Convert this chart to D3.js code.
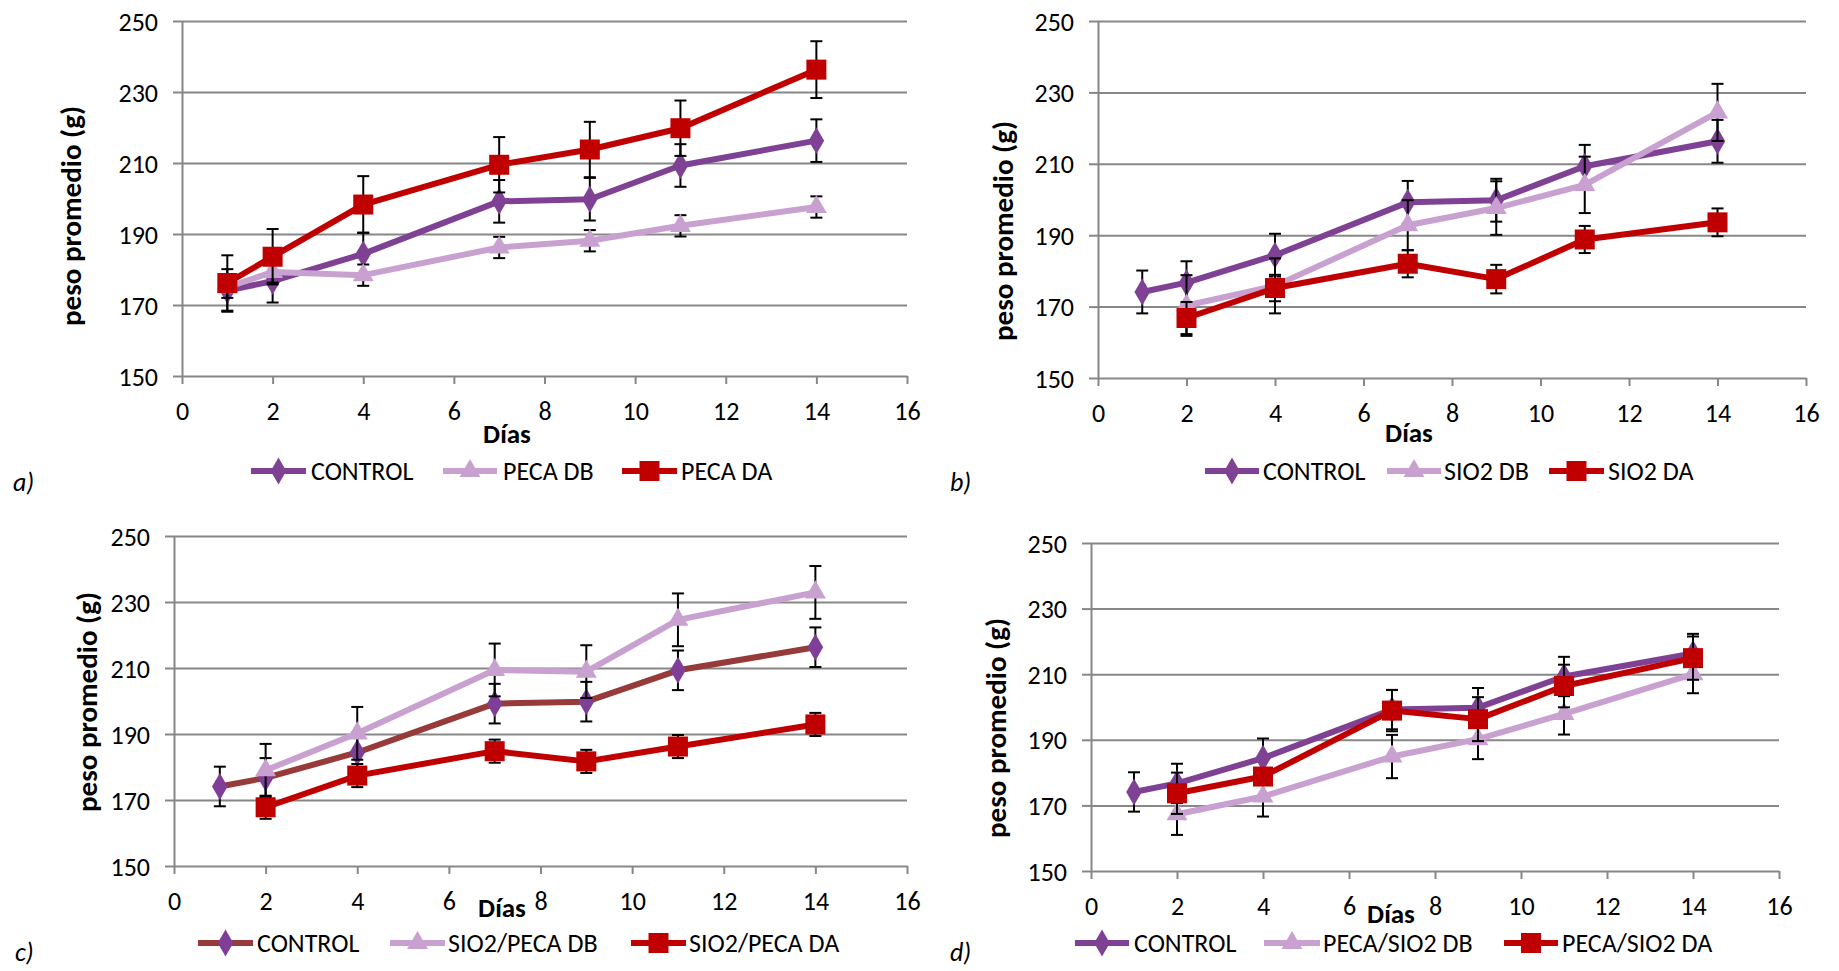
<!DOCTYPE html>
<html>
<head>
<meta charset="utf-8">
<script src="https://cdn.jsdelivr.net/npm/d3@7"></script>
<style>
  body { margin: 0; background: #fff; }
  svg text { font-family: Carlito, Lato, sans-serif; fill: #000; }
</style>
</head>
<body>
<svg id="chart" width="1839" height="971"></svg>
<script>
// days measured
var days = [1, 2, 4, 7, 9, 11, 14];
var treatDays = [2, 4, 7, 9, 11, 14];
var xTicks = [0, 2, 4, 6, 8, 10, 12, 14, 16];
var yTicks = [150, 170, 190, 210, 230, 250];

// control group (same in all four panels)
var controlMean = [174.1, 176.7, 184.4, 199.2, 199.8, 209.3, 216.3];
var controlErr = [6, 6, 6, 6, 6, 6, 6];

// a) PECA
var pecaDbMean = [175, 179.3, 178.4, 186.2, 188.1, 192.3, 197.6];
var pecaDbErr = [3, 3, 3, 3, 3, 3, 3];
var pecaDaMean = [176.2, 183.6, 198.3, 209.5, 213.8, 219.8, 236.3];
var pecaDaErr = [7.8, 7.8, 8, 7.8, 7.8, 7.8, 8];

// b) SIO2
var sio2DbMean = [170.3, 175.8, 192.8, 197.6, 204.1, 224.4];
var sio2DbErr = [8.5, 7.7, 7, 7.5, 7.9, 8];
var sio2DaMean = [166.8, 175.2, 182, 177.7, 188.8, 193.6];
var sio2DaErr = [4.5, 3.7, 3.8, 4, 3.8, 3.9];

// c) SIO2/PECA
var sio2PecaDbMean = [179, 190.2, 209.4, 208.9, 224.6, 232.9];
var sio2PecaDbErr = [8, 8, 8, 8, 8, 8];
var sio2PecaDaMean = [167.8, 177.4, 184.8, 181.7, 186.2, 192.9];
var sio2PecaDaErr = [3.5, 3.5, 3.5, 3.5, 3.5, 3.5];

// d) PECA/SIO2
var pecaSio2DbMean = [167.3, 172.7, 184.9, 190.2, 197.9, 210];
var pecaSio2DbErr = [6.3, 6.1, 6.6, 6.1, 6.3, 5.8];
var pecaSio2DaMean = [173.7, 178.8, 198.9, 196.3, 206.4, 214.9];
var pecaSio2DaErr = [6.3, 2.5, 6.3, 6.7, 6.5, 6.6];

var PURPLE = '#7e4194', LILAC = '#c9a1d1', RED = '#c00000', BROWN = '#963a3a', DIAMOND = '#7f3f98';
var GRID = '#878787';
var FS = '26px';

function ser(name, x, y, e, line, fill, shape) {
  return { name: name, x: x, y: y, e: e, line: line, fill: fill, shape: shape };
}

var panels = [
  { tag: 'a)', box: { l: 182, r: 907, t: 21, b: 376 }, ylab: [71, 216], xlab: [507, 434], tagPos: [13, 482],
    legY: 471, leg: [[251, 306, 311], [443, 497, 503], [622, 677, 681]],
    series: [ser('CONTROL', days, controlMean, controlErr, PURPLE, PURPLE, 'diamond'),
             ser('PECA DB', days, pecaDbMean, pecaDbErr, LILAC, LILAC, 'triangle'),
             ser('PECA DA', days, pecaDaMean, pecaDaErr, RED, RED, 'square')] },
  { tag: 'b)', box: { l: 1098, r: 1806, t: 21, b: 378 }, ylab: [1003, 231], xlab: [1409, 433], tagPos: [950, 482],
    legY: 471, leg: [[1205, 1259, 1263], [1387, 1441, 1444], [1549, 1604, 1608]],
    series: [ser('CONTROL', days, controlMean, controlErr, PURPLE, PURPLE, 'diamond'),
             ser('SIO2 DB', treatDays, sio2DbMean, sio2DbErr, LILAC, LILAC, 'triangle'),
             ser('SIO2 DA', treatDays, sio2DaMean, sio2DaErr, RED, RED, 'square')] },
  { tag: 'c)', box: { l: 174, r: 907, t: 536, b: 866 }, ylab: [87, 702], xlab: [502, 908], tagPos: [15, 952],
    legY: 943, leg: [[198, 253, 257], [390, 445, 448], [631, 686, 689]],
    series: [ser('CONTROL', days, controlMean, controlErr, BROWN, DIAMOND, 'diamond'),
             ser('SIO2/PECA DB', treatDays, sio2PecaDbMean, sio2PecaDbErr, LILAC, LILAC, 'triangle'),
             ser('SIO2/PECA DA', treatDays, sio2PecaDaMean, sio2PecaDaErr, RED, RED, 'square')] },
  { tag: 'd)', box: { l: 1091, r: 1779, t: 543, b: 871 }, ylab: [996, 728], xlab: [1391, 914], tagPos: [950, 952],
    legY: 943, leg: [[1075, 1129, 1134], [1264, 1320, 1323], [1504, 1558, 1562]],
    series: [ser('CONTROL', days, controlMean, controlErr, PURPLE, PURPLE, 'diamond'),
             ser('PECA/SIO2 DB', treatDays, pecaSio2DbMean, pecaSio2DbErr, LILAC, LILAC, 'triangle'),
             ser('PECA/SIO2 DA', treatDays, pecaSio2DaMean, pecaSio2DaErr, RED, RED, 'square')] }
];

var svg = d3.select('#chart');

// marker shapes, centred on 0,0
var shapes = {
  diamond: d3.symbol().type(d3.symbolDiamond).size(210),
  triangle: d3.symbol().type(d3.symbolTriangle).size(190),
  square: d3.symbol().type(d3.symbolSquare).size(400)
};

panels.forEach(function (p) {
  var g = svg.append('g');
  var x = d3.scaleLinear().domain([0, 16]).range([p.box.l, p.box.r]);
  var y = d3.scaleLinear().domain([150, 250]).range([p.box.b, p.box.t]);
  var w = p.box.r - p.box.l;

  // gridlines
  g.append('g')
    .attr('transform', 'translate(' + p.box.l + ',0)')
    .call(d3.axisLeft(y).tickValues(yTicks.slice(1)).tickSize(-w).tickFormat(''))
    .call(function (a) { a.select('.domain').remove(); })
    .selectAll('line').attr('stroke', GRID).attr('stroke-width', 2);

  // y axis
  var ya = g.append('g')
    .attr('transform', 'translate(' + p.box.l + ',0)')
    .call(d3.axisLeft(y).tickValues(yTicks).tickSize(9).tickSizeOuter(0));
  ya.select('.domain').attr('stroke', GRID).attr('stroke-width', 2);
  ya.selectAll('line').attr('stroke', GRID).attr('stroke-width', 2);
  ya.selectAll('text').attr('x', -24).attr('dy', '0.35em')
    .style('font-size', FS).style('font-family', 'Carlito, Lato, sans-serif');

  // x axis
  var xa = g.append('g')
    .attr('transform', 'translate(0,' + p.box.b + ')')
    .call(d3.axisBottom(x).tickValues(xTicks).tickSize(8).tickSizeOuter(0));
  xa.select('.domain').attr('stroke', GRID).attr('stroke-width', 2);
  xa.selectAll('line').attr('stroke', GRID).attr('stroke-width', 2);
  xa.selectAll('text').attr('y', 35).attr('dy', '0.35em')
    .style('font-size', FS).style('font-family', 'Carlito, Lato, sans-serif');

  // axis titles
  g.append('text')
    .attr('transform', 'translate(' + p.ylab[0] + ',' + p.ylab[1] + ') rotate(-90)')
    .attr('text-anchor', 'middle').attr('dy', '0.35em')
    .style('font-size', '28px').style('font-weight', 'bold')
    .attr('textLength', 220).attr('lengthAdjust', 'spacingAndGlyphs')
    .text('peso promedio (g)');
  g.append('text')
    .attr('x', p.xlab[0]).attr('y', p.xlab[1]).attr('dy', '0.35em')
    .attr('text-anchor', 'middle')
    .style('font-size', '27px').style('font-weight', 'bold')
    .text('Días');
  g.append('text')
    .attr('x', p.tagPos[0]).attr('y', p.tagPos[1]).attr('dy', '0.35em')
    .style('font-size', FS).style('font-style', 'italic')
    .text(p.tag);

  // series: error bars, line, markers
  p.series.forEach(function (s) {
    var pts = s.x.map(function (d, i) { return { x: d, y: s.y[i], e: s.e[i] }; });
    var eb = g.append('g').attr('stroke', '#000').attr('stroke-width', 2);
    eb.selectAll('.v').data(pts).enter().append('line')
      .attr('x1', function (d) { return x(d.x); }).attr('x2', function (d) { return x(d.x); })
      .attr('y1', function (d) { return y(d.y - d.e); }).attr('y2', function (d) { return y(d.y + d.e); });
    [-1, 1].forEach(function (sg) {
      eb.selectAll('.c' + sg).data(pts).enter().append('line')
        .attr('x1', function (d) { return x(d.x) - 6; }).attr('x2', function (d) { return x(d.x) + 6; })
        .attr('y1', function (d) { return y(d.y + sg * d.e); }).attr('y2', function (d) { return y(d.y + sg * d.e); });
    });
    g.append('path').datum(pts)
      .attr('fill', 'none').attr('stroke', s.line).attr('stroke-width', 6).attr('stroke-linejoin', 'round')
      .attr('d', d3.line().x(function (d) { return x(d.x); }).y(function (d) { return y(d.y); }));
    g.selectAll(null).data(pts).enter().append('path')
      .attr('transform', function (d) { return 'translate(' + x(d.x) + ',' + y(d.y) + ')'; })
      .attr('d', shapes[s.shape]).attr('fill', s.fill);
  });

  // legend
  p.series.forEach(function (s, i) {
    var L = p.leg[i];
    g.append('line').attr('x1', L[0]).attr('x2', L[1]).attr('y1', p.legY).attr('y2', p.legY)
      .attr('stroke', s.line).attr('stroke-width', 6);
    g.append('path').attr('transform', 'translate(' + ((L[0] + L[1]) / 2) + ',' + p.legY + ')')
      .attr('d', shapes[s.shape]).attr('fill', s.fill);
    g.append('text').attr('x', L[2]).attr('y', p.legY).attr('dy', '0.35em')
      .style('font-size', FS).text(s.name);
  });
});
</script>
</body>
</html>
